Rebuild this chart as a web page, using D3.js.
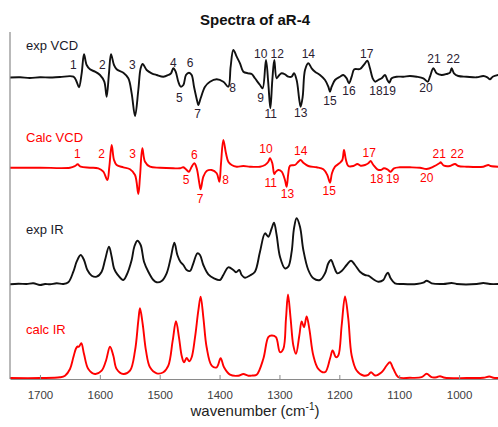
<!DOCTYPE html>
<html>
<head>
<meta charset="utf-8">
<script src="https://cdn.jsdelivr.net/npm/d3@7"></script>
<style>
  body { margin: 0; background: #fff; }
  svg { display: block; }
  text { font-family: "Liberation Sans", Arial, sans-serif; }
</style>
</head>
<body>
<svg id="chart" width="498" height="427"></svg>
<script>
// Spectra of aR-4: [wavenumber (cm-1), intensity (a.u.)]
const expVCD = [
  [1750,0],[1733,0.2],[1717,-0.5],[1700,0.2],[1683,0],[1666.5,0.5],[1644,0.8],
  [1638.7,-4.2],[1634.8,-9.8],[1630.3,4.2],[1626.4,23.2],[1622,12.5],[1616.4,8.2],
  [1608,5.8],[1599.7,2.5],[1592.5,-4.2],[1588.6,-19.2],[1584.7,4.2],[1581.3,23.2],
  [1576.3,12.5],[1571.9,8.2],[1560.7,4.8],[1552.4,-0.8],[1546.8,-15.8],[1541.2,-38.5],
  [1535.7,-12.5],[1531.8,9.2],[1528.4,13.5],[1521.8,7.5],[1513.4,4.2],[1505,2.5],
  [1493.9,0.8],[1485.6,2.5],[1481.1,4.2],[1477.2,9.2],[1473.3,5.8],[1468.9,-4.2],
  [1465,-9.2],[1460.5,-7.5],[1456.1,2.5],[1451.1,4.8],[1446.6,2.5],[1442.7,-9.2],
  [1437.1,-24.2],[1435.5,-27.5],[1431.6,-20.8],[1424.3,-9.2],[1416,-4.2],[1404.8,-1.8],
  [1393.7,-4.2],[1385.4,-9.2],[1381.5,10.8],[1377,27.5],[1371.4,20.8],[1365.9,14.2],
  [1360.3,5.8],[1352,4.2],[1346.4,3.5],[1340.9,-0.8],[1332.5,-7.5],[1328.1,-10.8],
  [1322.5,17.5],[1318.6,-5.8],[1315.2,-30.8],[1311.9,-2.5],[1308.6,17.5],[1304.7,-0.8],
  [1300.2,2.5],[1296.3,4.2],[1290.8,3.2],[1285.2,0.8],[1279.6,0.8],[1275.7,4.2],
  [1271.3,-2.5],[1266.8,-22.5],[1264.6,-29.2],[1261.2,-19.2],[1257.3,7.5],[1251.8,14.2],
  [1246.2,9.2],[1240.6,5.8],[1232.3,2.5],[1223.9,-2.5],[1218.4,-9.2],[1215.6,-14.2],
  [1212.8,-9.2],[1207.2,-2.5],[1198.9,0.8],[1193.3,2.5],[1187.8,-0.8],[1183.9,-5.8],
  [1179.4,0.8],[1175,8.2],[1165.5,8.5],[1157.1,14.2],[1153.2,16.8],[1148.8,9.2],
  [1144.3,-0.8],[1140.4,-4.2],[1134.9,-2.5],[1129.3,-0.8],[1123.7,2.5],[1119.8,-2.5],
  [1116.5,-5.2],[1112.6,-0.8],[1104.2,0.8],[1093.1,0.8],[1082,1.5],[1070.9,0.8],
  [1059.7,-0.8],[1052.5,-4.2],[1048.6,0.8],[1043,9.2],[1037.5,4.2],[1029.1,2.5],
  [1020.8,3.5],[1015.2,4.8],[1012.4,9.2],[1008.5,4.2],[1001.3,1.5],[987.3,0.8],
  [970.6,0.2],[959.5,1.5],[952.8,0.2],[948.4,-1.8],[943.9,0.8],[934.5,2.5]
];

const calcVCD = [
  [1750,0],[1700,0],[1649.8,0],[1641.4,1.7],[1637,3.4],[1632,1],[1616.4,0],
  [1602.5,-0.6],[1594.1,-4],[1587.4,-12.3],[1584.1,1],[1580.2,22.7],[1576.3,7.7],
  [1571.9,2.7],[1560.7,0.4],[1549.6,-1.6],[1541.2,-7.3],[1535.7,-26.3],[1532.9,-9],
  [1529,19.4],[1524.5,6],[1516.2,1],[1499.5,0],[1477.2,-0.6],[1466.1,-0.6],
  [1460.5,0.4],[1455,-2.3],[1451.1,-4],[1446.6,1],[1442.1,4.4],[1438.2,-0.6],
  [1433.8,-15.6],[1431.6,-21.6],[1427.1,-9],[1421.6,-3.3],[1413.2,-2.3],[1404.8,-5.6],
  [1400.4,-14],[1397.6,4.4],[1393.7,27.7],[1389.3,14.4],[1385.4,6],[1379.8,2.7],
  [1371.4,1],[1360.3,1.7],[1349.2,1],[1332.5,1],[1324.1,2.7],[1318.6,6],[1315.8,9.4],
  [1311.9,4.4],[1308.6,-6.3],[1305.8,-4],[1301.9,-2.3],[1296.3,-4],[1290.8,-12.3],
  [1288,-19],[1285.2,-5.6],[1282.4,2],[1274.1,2.7],[1268.5,6],[1264.6,7.7],[1260.1,5],
  [1251.8,1.7],[1237.9,0.4],[1226.7,-1.6],[1220.1,-7.3],[1215.6,-15],[1212.3,-5.6],
  [1207.2,1],[1200,4.4],[1195,7.7],[1192.2,17.7],[1188.9,7.7],[1185,1.7],[1176.6,1.7],
  [1169.9,3.7],[1164.4,2],[1157.1,2.7],[1151.6,4.4],[1147.7,6.7],[1143.2,2.7],
  [1136.5,-1.6],[1131,-2.3],[1125.4,-0.6],[1119.8,-1.6],[1114.3,-4],[1108.7,-0.6],
  [1098.7,0.4],[1082,0.4],[1065.3,0],[1054.2,-1.3],[1043,1],[1033,4.4],[1030.8,5.4],
  [1025.2,2],[1015.2,1.7],[1006.8,3.7],[1001.3,1.7],[987.3,1],[959.5,1],[951.2,2.7],
  [947.3,1.7],[934.5,1]
];

const expIR = [
  [1750,-0.3],[1736,0.3],[1722.2,0],[1711,0.7],[1699.9,-1],[1691.5,0],[1683.2,-0.3],
  [1672.1,0.7],[1660.9,0],[1652.6,1.7],[1644.2,12.3],[1638.7,22.3],[1632,29],
  [1626.4,24],[1620.8,14],[1613.6,8.3],[1605.3,7.3],[1596.9,12.3],[1591.3,24],
  [1584.7,37.3],[1580.2,27.3],[1576.3,15.7],[1570.7,9.7],[1560.7,4],[1555.2,9],
  [1546.8,24],[1542.4,37.3],[1537.3,43.3],[1531.8,39],[1526.2,22.3],[1519,12.3],
  [1510.6,4],[1505,1.7],[1496.7,3],[1488.4,10.7],[1481.7,25.7],[1475.5,41.3],
  [1470.5,29],[1464.9,21.7],[1460.5,19],[1454.9,14],[1449.4,13],[1443.8,20.7],
  [1437.1,30.7],[1432.7,29],[1427.1,19],[1418.8,9.7],[1409.3,5.7],[1399.3,4],
  [1393.7,9],[1385.4,16.7],[1377,14],[1372.6,11.7],[1367,14],[1363.1,9],[1357.5,6.3],
  [1349.2,8.5],[1340.9,12.3],[1332.5,32.3],[1324.1,50.7],[1318.6,47.3],[1313,55.7],
  [1309.1,61.3],[1304.7,49],[1299.1,27.3],[1290.8,15.7],[1285.2,17.3],[1279.6,32.3],
  [1275.7,55.7],[1271.3,65.7],[1265.7,57.3],[1260.1,34],[1251.8,14],[1243.4,5.7],
  [1232.3,4],[1223.9,10.7],[1218.4,20.7],[1213.9,24],[1208.9,17.3],[1203.3,10.7],
  [1196.1,13],[1187.8,19],[1180.5,23.3],[1173.8,19],[1165.5,12.3],[1157.1,9],
  [1151.6,8.3],[1143.2,4.7],[1134.9,2.3],[1126.5,4],[1122.1,9],[1118.7,11.3],
  [1114.3,5.7],[1107.1,0.7],[1093.1,0],[1070.9,0],[1059.7,1.3],[1054.2,3.3],
  [1045.8,0.7],[1026.3,0],[1012.4,1],[1004,0],[970.6,0],[959.5,1],[948.4,0],[934.5,0]
];

const calcIR = [
  [1750,0],[1700,0],[1666.5,0.7],[1658.1,2.3],[1649.8,9],[1644.2,20.7],[1639.8,29.5],
  [1637,31.5],[1634.8,31.3],[1630.9,34.7],[1626.4,24],[1619.2,9],[1608,4],[1596.9,7.3],
  [1589.7,17.3],[1583,31.3],[1577.4,22.3],[1571.9,9],[1560.7,4],[1549.6,7.3],
  [1541.2,27.3],[1535.7,57.3],[1532.9,69.7],[1528.4,54],[1522.9,27.3],[1516.2,10.7],
  [1505,4.7],[1493.9,5.7],[1485.6,12.3],[1478.3,37.3],[1472.8,56.7],[1467.8,40.7],
  [1463.3,22.3],[1459.4,15.7],[1455,20],[1450.5,16.7],[1446.6,20.7],[1441,40.7],
  [1435.5,67.3],[1431.6,81.3],[1427.1,60.7],[1421.6,30.7],[1413.2,12.3],[1404.8,10.7],
  [1398.2,19.7],[1392.6,10.7],[1382.6,3.3],[1368.7,2.3],[1360.3,4],[1352,2.3],
  [1345,2.5],[1338.1,3.2],[1326.9,19.2],[1318.6,40.8],[1313,42.5],[1305.8,40.8],
  [1299.1,25.8],[1293.5,29.2],[1289.1,59.2],[1285.7,83.5],[1281.3,59.2],[1276.8,32.5],
  [1272.4,24.2],[1266.8,42.5],[1262.9,56.5],[1259,50.8],[1254.6,61.5],[1250.1,49.2],
  [1243.4,22.5],[1235.1,9.2],[1223.9,5.8],[1215.6,19.2],[1211.2,27.5],[1205.6,20.8],
  [1201.7,22.5],[1196.1,52.5],[1190.5,81.5],[1185,59.2],[1179.4,22.5],[1171.1,7.5],
  [1159.9,2.5],[1151.6,3.2],[1147.1,5.8],[1140.4,2.5],[1129.3,5.8],[1121,12.5],
  [1115.4,15.8],[1109.8,9.2],[1101.5,0.8],[1082,0.2],[1062.5,0.8],[1054.2,4.2],
  [1045.8,0.8],[1037.5,0.8],[1031.9,1.8],[1023.6,0.2],[987.3,0],[959.5,0.2],
  [949.5,1.5],[942.8,0.2],[934.5,0]
];

// Band numbers: [label, wavenumber, intensity at text baseline]
const expVCDBands = [
  ["1",1644.3,8.2],["2",1595.9,8.2],["3",1545.8,8.2],["4",1477.3,10.8],["5",1467.3,-24.2],
  ["6",1449.4,10.8],["7",1436.5,-40.8],["8",1378.1,-14.2],["9",1331.3,-24.2],["10",1331.3,19.2],
  ["11",1314.6,-40.8],["12",1303.6,19.2],["13",1264.5,-39.8],["14",1251.8,19.2],
  ["15",1215.6,-27.5],["16",1183.9,-17.5],["17",1154.3,19.2],["18",1138.8,-17.5],
  ["19",1116.6,-17.5],["20",1055.3,-14.8],["21",1041.9,14.2],["22",1009.7,14.2]
];
const calcVCDBands = [
  ["1",1637.6,9.4],["2",1596.9,9.4],["3",1545.1,9.4],["5",1456.1,-16.3],["6",1442.2,8.7],
  ["7",1432.7,-35],["8",1389.8,-16.3],["10",1322.5,15],["11",1314.6,-19],["13",1286.6,-30.6],
  ["14",1264.5,12.7],["15",1216.8,-27.3],["17",1150,11],["18",1137.6,-15.6],
  ["19",1110.9,-15.6],["20",1054.1,-14],["21",1033.1,9.4],["22",1003,9.4]
];

const xTicks = [1700, 1600, 1500, 1400, 1300, 1200, 1100, 1000];

const BLACK = "#111", RED = "#ff0000";
const svg = d3.select("#chart");
const plot = { left: 10, right: 498, top: 32, bottom: 379 };

const x = d3.scaleLinear().domain([1750, 935]).range([plot.left, plot.right]);

svg.append("defs").append("clipPath").attr("id", "plotclip")
  .append("rect").attr("x", plot.left).attr("y", 0)
  .attr("width", plot.right - plot.left).attr("height", plot.bottom + 2);

// Title
svg.append("text").attr("x", 255).attr("y", 25).attr("text-anchor", "middle")
  .attr("font-size", 15).attr("font-weight", "bold").attr("fill", "#111")
  .text("Spectra of aR-4");

// Stacked traces, each with its own baseline
const panels = [
  { name: "exp VCD",  data: expVCD,  color: BLACK, base: 77.5,  nameY: 49.5,  bands: expVCDBands,  bandColor: "#2a2030" },
  { name: "Calc VCD", data: calcVCD, color: RED,   base: 167.7, nameY: 141.5, bands: calcVCDBands, bandColor: RED },
  { name: "exp IR",   data: expIR,   color: BLACK, base: 284,   nameY: 233.5 },
  { name: "calc IR",  data: calcIR,  color: RED,   base: 378,   nameY: 334 }
];

const gPlot = svg.append("g").attr("clip-path", "url(#plotclip)");

panels.forEach(p => {
  const y = d3.scaleLinear().domain([0, 100]).range([p.base, p.base - 100]);
  const line = d3.line().x(d => x(d[0])).y(d => y(d[1])).curve(d3.curveCatmullRom.alpha(0.5));
  gPlot.append("path").datum(p.data)
    .attr("d", line).attr("fill", "none")
    .attr("stroke", p.color).attr("stroke-width", 1.9)
    .attr("stroke-linejoin", "round").attr("stroke-linecap", "round");

  svg.append("text").attr("x", 26).attr("y", p.nameY)
    .attr("font-size", 13).attr("fill", p.color === RED ? RED : "#1a1a2a")
    .text(p.name);

  if (p.bands) {
    svg.append("g").selectAll("text").data(p.bands).join("text")
      .attr("x", d => x(d[1])).attr("y", d => y(d[2]))
      .attr("text-anchor", "middle").attr("font-size", 12)
      .attr("fill", p.bandColor).text(d => d[0]);
  }
});

// Axes
const axisColor = "#8a8a8a";
svg.append("line").attr("x1", plot.left).attr("x2", plot.left)
  .attr("y1", plot.top).attr("y2", plot.bottom)
  .attr("stroke", axisColor).attr("stroke-width", 1.2);

const xAxis = d3.axisBottom(x).tickValues(xTicks).tickFormat(d3.format("d"))
  .tickSize(-4).tickSizeOuter(0).tickPadding(12);
const gx = svg.append("g").attr("transform", `translate(0,${plot.bottom})`).call(xAxis);
gx.select(".domain").attr("stroke", axisColor).attr("stroke-width", 1.2);
gx.selectAll(".tick line").attr("stroke", axisColor);
gx.selectAll(".tick text").attr("font-size", 11.5).attr("fill", "#404040")
  .attr("font-family", "'Liberation Sans', Arial, sans-serif");

const xl = svg.append("text").attr("x", 255).attr("y", 416).attr("text-anchor", "middle")
  .attr("font-size", 15).attr("fill", "#222");
xl.append("tspan").text("wavenumber (cm");
xl.append("tspan").attr("font-size", 10).attr("dy", -6).text("-1");
xl.append("tspan").attr("dy", 6).text(")");
</script>
</body>
</html>
